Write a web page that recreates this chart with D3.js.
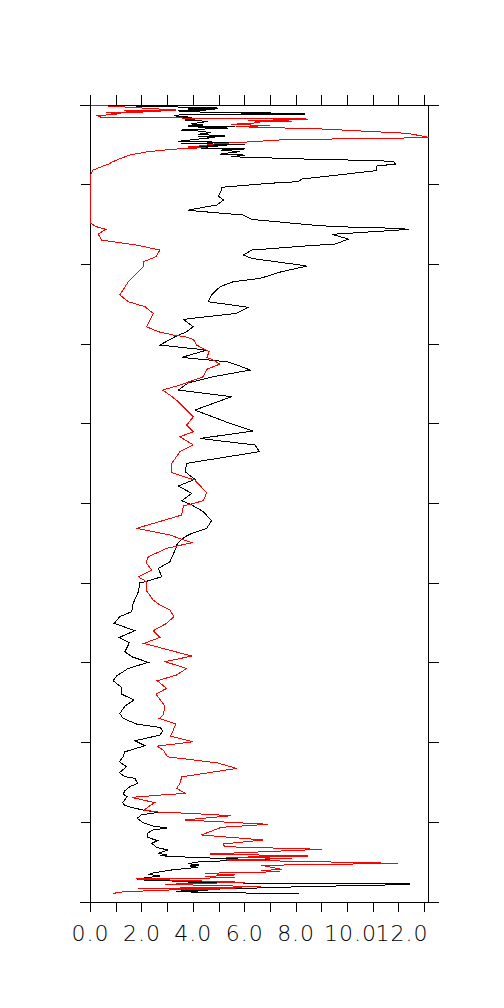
<!DOCTYPE html>
<html>
<head>
<meta charset="utf-8">
<script src="https://cdn.jsdelivr.net/npm/d3@7"></script>
<style>
  body { margin: 0; background: #fff; }
  svg { display: block; }
</style>
</head>
<body>
<svg id="chart" width="504" height="1008"></svg>
<script>
// profile values (x) against depth (0 = top, 100 = bottom)
var blackValue = [2.73,1.78,3.40,4.96,3.79,4.83,3.40,4.51,7.04,5.87,8.34,3.27,3.34,3.79,3.47,4.38,3.66,4.57,3.92,4.38,
  3.79,5.61,4.18,5.35,3.53,4.18,4.70,4.18,5.22,4.18,4.83,3.40,5.48,3.53,6.00,4.18,4.96,3.79,6.00,5.09,
  5.81,5.22,5.03,6.00,5.48,6.65,8.73,10.81,11.78,11.84,11.86,11.14,11.14,11.01,8.22,8.09,6.92,5.10,5.10,4.97,
  5.17,4.91,3.94,3.81,4.13,5.95,6.27,8.61,9.58,11.99,12.38,9.39,10.04,9.52,8.48,6.27,5.95,6.27,8.16,8.42,
  7.44,6.60,5.56,5.04,4.71,4.58,6.14,5.69,3.61,4.00,3.74,3.29,2.70,4.52,3.55,5.30,5.82,6.21,4.78,3.81,
  3.42,5.49,4.06,5.43,6.31,4.26,6.40,6.57,3.74,3.68,4.06,3.42,3.94,3.55,3.94,4.39,4.71,4.52,3.94,3.68,
  3.38,3.32,3.09,2.64,2.77,2.12,1.92,1.86,1.66,1.60,1.14,0.92,1.73,1.12,1.51,1.34,1.60,2.25,1.47,1.01,
  0.88,1.21,1.21,1.69,1.34,1.14,1.27,1.79,2.70,2.81,2.70,1.73,2.12,1.34,1.27,1.12,1.40,1.12,1.34,1.73,
  1.83,1.53,1.34,1.27,1.43,1.25,1.32,1.58,2.04,2.62,1.97,1.82,2.04,2.43,2.99,2.43,2.21,2.23,2.60,2.39,
  2.56,3.01,2.62,2.99,2.69,3.34,5.29,6.97,5.35,4.18,3.79,4.23,3.86,4.18,3.14,2.49,2.26,2.69,2.30,1.78,
  2.88,2.10,5.09,3.79,6.00,10.29,12.43,11.45,8.21,6.00,3.53,4.57,3.34,4.57,6.91,8.10];
var blackDepth = [0.08,0.13,0.25,0.38,0.50,0.59,0.75,0.92,0.96,1.05,1.13,1.26,1.38,1.46,1.59,1.67,1.88,2.05,2.38,2.51,
  2.64,2.72,2.80,2.89,3.14,3.26,3.47,3.68,3.89,3.97,4.06,4.56,4.69,4.85,4.94,5.15,5.23,5.36,5.52,5.65,
  5.86,6.07,6.19,6.28,6.49,6.61,6.82,6.95,7.07,7.32,7.41,7.66,8.16,8.28,9.29,9.62,9.83,10.33,10.67,11.42,
  11.92,12.55,13.10,13.18,13.31,13.81,14.35,15.06,15.27,15.48,15.61,16.23,16.82,17.45,17.66,18.20,18.83,19.25,20.08,20.21,
  20.91,21.75,22.17,22.80,23.84,24.68,25.39,26.14,26.90,27.82,28.45,29.07,30.12,30.75,31.67,32.21,32.76,33.26,34.09,34.85,
  35.77,36.60,38.28,39.95,40.91,41.84,42.66,43.50,44.96,46.01,46.97,47.81,48.73,49.65,50.19,51.03,52.16,53.12,53.75,54.17,
  55.01,55.63,57.31,58.14,59.19,59.82,59.94,61.07,62.54,63.57,64.20,65.04,65.96,66.80,67.47,68.60,69.22,69.93,70.69,71.65,
  72.24,73.07,73.91,74.66,75.42,76.34,76.96,77.67,78.09,78.51,79.06,79.77,80.39,81.15,81.78,82.40,83.03,83.78,84.28,84.49,
  85.11,85.53,86.03,86.45,86.79,87.50,87.83,88.12,88.46,88.75,89.08,89.50,90.05,90.46,90.71,90.97,91.38,91.89,92.30,92.64,
  93.14,93.48,93.89,94.10,94.19,94.31,94.56,94.73,94.81,94.98,95.19,95.36,95.48,95.65,95.99,96.32,96.53,96.74,96.91,97.11,
  97.24,97.32,97.45,97.53,97.62,97.66,97.74,97.87,98.08,98.29,98.50,98.58,98.71,98.79,98.92,98.92];

var redValue = [0.00,1.13,3.34,1.32,2.75,0.61,1.19,0.29,0.42,8.47,6.13,7.82,6.39,6.58,5.48,6.97,5.68,8.99,12.36,13.15,
  12.23,7.56,6.13,4.90,4.38,3.79,4.51,3.66,2.88,2.23,1.52,1.19,0.87,0.68,0.49,0.10,0.00,0.00,0.23,0.60,
  0.30,0.43,1.79,2.70,2.55,2.05,2.08,1.79,1.47,1.14,1.47,2.12,2.44,2.18,2.64,3.22,3.68,4.00,4.13,4.62,
  4.52,4.78,5.04,4.52,4.39,3.48,2.81,3.09,3.42,3.74,4.00,3.74,4.00,3.48,4.00,3.48,3.16,3.16,4.06,4.52,
  4.39,3.61,3.55,1.79,3.09,3.94,2.96,2.25,2.16,2.38,1.86,2.18,2.16,2.44,2.64,3.09,3.25,2.96,2.44,2.70,
  2.08,3.94,2.90,3.74,3.35,2.60,2.96,2.55,2.90,2.83,2.68,3.32,3.12,4.00,2.60,2.83,2.99,4.91,5.69,3.55,
  3.48,3.35,3.68,2.90,1.60,2.49,2.08,2.62,3.79,5.48,3.66,6.91,5.09,4.31,6.71,5.16,5.22,8.99,4.64,8.47,
  5.29,7.82,5.29,8.73,11.97,6.65,7.43,6.65,7.36,4.44,5.61,4.44,5.61,1.78,6.00,2.88,6.65,1.84,5.61,3.01,
  1.32,0.87];
var redDepth = [0.00,0.21,0.63,0.75,0.84,0.96,1.09,1.34,1.55,1.76,1.97,2.01,2.13,2.22,2.43,2.59,2.72,3.01,3.56,4.06,
  4.14,4.35,4.64,4.85,5.10,5.27,5.36,5.44,5.65,5.86,6.28,6.69,7.11,7.45,7.66,8.16,8.79,14.85,15.27,15.61,
  16.19,16.95,17.57,18.20,19.04,19.67,20.21,21.12,22.17,23.84,24.68,25.31,26.14,27.82,28.45,28.86,29.07,29.41,30.12,30.96,
  31.67,32.00,32.50,33.17,34.09,35.14,35.77,36.40,37.23,38.28,39.12,40.16,41.00,41.62,42.66,43.50,44.96,46.14,47.06,48.65,
  49.65,50.32,51.45,53.12,53.96,54.92,55.63,56.68,57.43,58.35,59.19,59.82,60.86,62.11,62.61,63.37,64.20,65.04,65.96,66.80,
  67.55,69.14,69.85,70.69,71.52,72.24,73.20,73.91,75.42,76.54,76.96,77.67,79.18,79.89,80.44,80.94,81.78,82.53,83.24,84.30,
  85.11,85.74,86.37,86.54,86.87,87.53,88.46,88.71,88.87,89.17,89.71,90.25,90.63,91.59,92.22,92.72,93.06,93.39,93.98,94.23,
  94.40,94.52,94.73,94.94,95.15,95.40,95.90,96.07,96.20,96.40,96.61,96.82,96.95,97.11,97.53,97.78,98.08,98.33,98.33,98.50,
  98.71,98.92];

var xTicks = d3.range(0, 14, 1);
var xTickLabels = ["0.0", "2.0", "4.0", "6.0", "8.0", "10.0", "12.0"];
var depthTicks = d3.range(0, 101, 10);

var svg = d3.select("#chart"),
    plotLeft = 90.5, plotRight = 428.5, plotTop = 105, plotBottom = 902;

var x = d3.scaleLinear().domain([0, 13.15]).range([plotLeft, plotRight]);
var y = d3.scaleLinear().domain([0, 100]).range([plotTop, plotBottom]);

var g = svg.append("g").attr("shape-rendering", "crispEdges");

// frame
g.append("rect")
  .attr("x", plotLeft).attr("y", plotTop)
  .attr("width", plotRight - plotLeft).attr("height", plotBottom - plotTop)
  .attr("fill", "none").attr("stroke", "#000");

// top and bottom axis lines reach past the frame
[plotTop, plotBottom].forEach(function(yy) {
  g.append("line").attr("x1", 80).attr("x2", 439).attr("y1", yy).attr("y2", yy)
    .attr("stroke", "#000");
});

// x ticks, top (up) and bottom (down)
g.selectAll(".xt").data(xTicks).enter().append("line")
  .attr("x1", d => x(d)).attr("x2", d => x(d))
  .attr("y1", plotTop - 10).attr("y2", plotTop)
  .attr("stroke", "#000");
g.selectAll(".xb").data(xTicks).enter().append("line")
  .attr("x1", d => x(d)).attr("x2", d => x(d))
  .attr("y1", plotBottom).attr("y2", plotBottom + 10)
  .attr("stroke", "#000");

// depth ticks on both sides, no labels
g.selectAll(".yl").data(depthTicks).enter().append("line")
  .attr("x1", plotLeft - 10).attr("x2", plotLeft)
  .attr("y1", d => y(d)).attr("y2", d => y(d))
  .attr("stroke", "#000");
g.selectAll(".yr").data(depthTicks).enter().append("line")
  .attr("x1", plotRight).attr("x2", plotRight + 10)
  .attr("y1", d => y(d)).attr("y2", d => y(d))
  .attr("stroke", "#000");

// tick labels
svg.selectAll(".lab").data(xTickLabels).enter().append("text")
  .attr("x", (d, i) => x(i * 2) + (i >= 5 ? 3 : 0))
  .attr("y", 941)
  .attr("text-anchor", "middle")
  .style("font-family", "DejaVu Sans")
  .style("font-weight", 200)
  .style("font-size", "22px")
  .style("letter-spacing", "1px")
  .attr("fill", "#000")
  .text(d => d);

var line = d3.line().x(d => x(d[0])).y(d => y(d[1]));

var blackPts = blackValue.map((v, i) => [v, blackDepth[i]]);
var redPts = redValue.map((v, i) => [v, redDepth[i]]);

g.append("path").datum(blackPts)
  .attr("d", line).attr("fill", "none").attr("stroke", "#000").attr("stroke-width", 1);
g.append("path").datum(redPts)
  .attr("d", line).attr("fill", "none").attr("stroke", "#ff0000").attr("stroke-width", 1);
</script>
</body>
</html>
